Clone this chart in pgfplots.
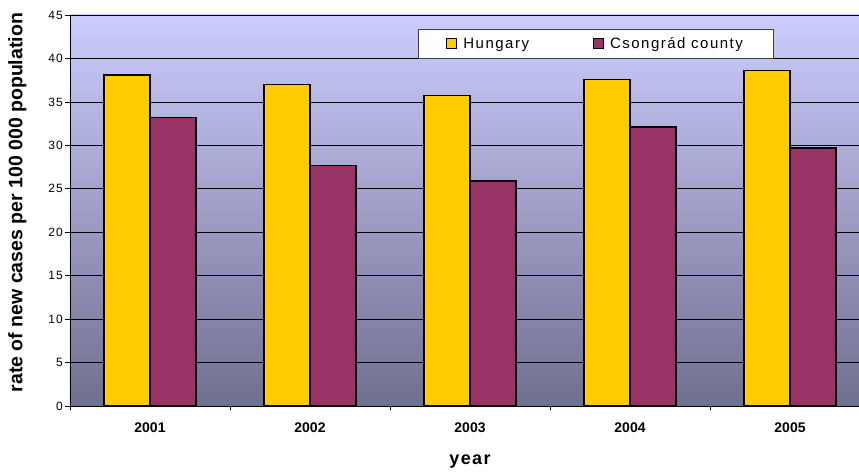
\documentclass[border=0pt]{standalone}
\usepackage{fontspec}
\setmainfont{Liberation Sans}
\newfontfamily\legfont[LetterSpace=10]{Liberation Sans}
\newfontfamily\lsbold[LetterSpace=8]{Liberation Sans Bold}
\usepackage{pgfplots}
\pgfplotsset{compat=1.18}

\definecolor{hun}{HTML}{FFCC00}
\definecolor{csc}{HTML}{993366}
\definecolor{bgtop}{RGB}{204,204,255}
\definecolor{bgbot}{RGB}{112,112,143}

\begin{document}
\begin{tikzpicture}
\begin{axis}[
    name=ax,
    scale only axis,
    width=789pt, height=391pt,
    ybar=0pt,
    bar width=0.2875,
    xmin=-0.5, xmax=4.43125,
    ymin=0, ymax=45,
    ytick={0,5,...,45},
    xtick={0,1,2,3,4},
    xticklabels={2001,2002,2003,2004,2005},
    minor xtick={-0.5,0.5,1.5,2.5,3.5},
    axis x line*=bottom,
    axis y line*=left,
    axis line style={black, line width=0.8pt, -},
    tick align=outside,
    major tick length=5pt,
    minor tick length=4pt,
    major x tick style={draw=none},
    minor x tick style={black, line width=0.6pt},
    major y tick style={black, line width=0.6pt},
    ymajorgrids=true,
    grid style={black, line width=0.6pt},
    axis background/.style={shade, top color=bgtop, bottom color=bgbot},
    /pgf/number format/assume math mode=true,
    yticklabel style={font=\legfont\fontsize{12}{12}\selectfont, inner sep=2pt},
    xticklabel style={font=\bfseries\fontsize{14}{14}\selectfont, yshift=-8pt},
    ylabel={rate of new cases per 100 000 population},
    ylabel style={at={(axis description cs:-0.055,0.52)}, rotate=0, anchor=south, inner sep=0pt,
                  font=\bfseries\fontsize{19.5}{19.5}\selectfont},
    xlabel={year},
    xlabel style={at={(axis description cs:0.507,0)}, anchor=north, yshift=-45pt,
                  font=\lsbold\fontsize{18}{18}\selectfont},
    legend columns=2,
    legend image code/.code={\draw[#1, line width=1pt] (0pt,-5pt) rectangle (10pt,5pt);},
    legend style={at={(axis description cs:0.441,0.964)}, anchor=north west,
                  draw=black!75, fill=white, line width=0.8pt,
                  inner xsep=28pt, inner ysep=6pt,
                  font=\legfont\fontsize{15}{15}\selectfont,
                  /tikz/every odd column/.append style={column sep=4pt},
                  /tikz/every even column/.append style={column sep=62pt}},
    legend cell align=left,
]
\addplot[fill=hun, draw=black, line width=1.2pt, bar shift=-0.14375]
    coordinates {(0,38.1) (1,37.0) (2,35.7) (3,37.6) (4,38.6)};
\addplot[fill=csc, draw=black, line width=1.2pt, bar shift=0.14375]
    coordinates {(0,33.2) (1,27.7) (2,25.9) (3,32.1) (4,29.7)};
\legend{Hungary, Csongrád county}
\end{axis}
\pgfresetboundingbox
\path[use as bounding box] ([shift={(-70pt,-67pt)}]ax.south west) rectangle ([shift={(0pt,15pt)}]ax.north east);
\end{tikzpicture}
\end{document}
